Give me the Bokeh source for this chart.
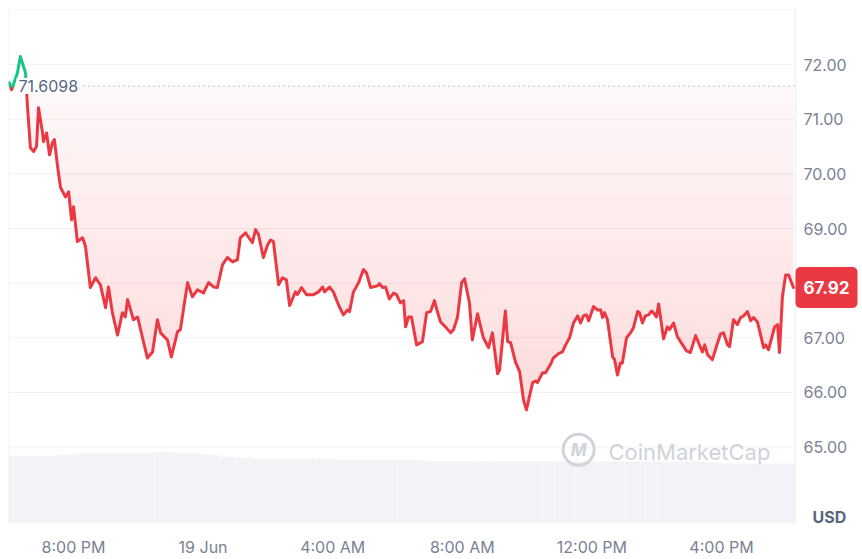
import numpy as np
from bokeh.plotting import figure
from bokeh.models import Range1d, FixedTicker, Label
from bokeh.core.properties import value
from bokeh.embed import file_html
from bokeh.resources import INLINE

# ---- data (hours since 18 Jun 00:00) ----
hours = [18.02, 18.09, 18.27, 18.36, 18.52, 18.58, 18.67, 18.77, 18.86, 18.92,
         19.04, 19.07, 19.17, 19.26, 19.35, 19.41, 19.51, 19.60, 19.75, 19.85,
         19.94, 20.00, 20.12, 20.28, 20.37, 20.52, 20.68, 20.83, 20.99, 21.08,
         21.20, 21.36, 21.51, 21.60, 21.67, 21.85, 21.98, 22.13, 22.28, 22.44,
         22.59, 22.69, 22.90, 23.02, 23.21, 23.30, 23.52, 23.67, 23.83, 24.01,
         24.17, 24.32, 24.44, 24.60, 24.75, 24.91, 25.06, 25.15, 25.31, 25.52,
         25.62, 25.71, 25.86, 25.99, 26.08, 26.17, 26.33, 26.45, 26.57, 26.67,
         26.85, 26.91, 27.04, 27.19, 27.41, 27.56, 27.69, 27.75, 27.90, 28.02,
         28.18, 28.33, 28.46, 28.52, 28.64, 28.80, 28.95, 29.04, 29.17, 29.38,
         29.44, 29.54, 29.63, 29.75, 29.88, 29.97, 30.09, 30.19, 30.25, 30.34,
         30.43, 30.59, 30.77, 30.90, 31.02, 31.14, 31.23, 31.33, 31.48, 31.64,
         31.73, 31.85, 31.98, 32.07, 32.22, 32.31, 32.47, 32.65, 32.81, 32.93,
         33.09, 33.15, 33.33, 33.40, 33.49, 33.64, 33.77, 33.89, 33.98, 34.17,
         34.26, 34.32, 34.48, 34.57, 34.72, 34.81, 34.97, 35.09, 35.19, 35.31,
         35.43, 35.56, 35.65, 35.74, 35.83, 35.90, 36.05, 36.17, 36.27, 36.33,
         36.39, 36.48, 36.64, 36.70, 36.79, 36.88, 36.94, 37.07, 37.19, 37.28,
         37.41, 37.47, 37.56, 37.65, 37.75, 37.84, 37.90, 37.99, 38.06, 38.21,
         38.33, 38.40, 38.52, 38.64, 38.80, 38.92, 39.04, 39.20, 39.41, 39.48,
         39.57, 39.72, 39.88, 39.97, 40.06, 40.19, 40.25, 40.37, 40.49, 40.59,
         40.68, 40.80, 40.90, 40.99, 41.11, 41.30, 41.36, 41.45, 41.64, 41.73,
         41.79, 41.88, 41.98, 42.07, 42.22]

price = [71.67, 71.54, 71.85, 72.15, 71.85, 71.23, 70.48, 70.41, 70.50, 71.21,
         70.77, 70.59, 70.75, 70.35, 70.57, 70.63, 70.13, 69.75, 69.58, 69.67,
         69.16, 69.40, 68.76, 68.83, 68.67, 67.92, 68.10, 67.97, 67.55, 67.93,
         67.46, 67.05, 67.46, 67.38, 67.70, 67.33, 67.38, 67.00, 66.63, 66.74,
         67.33, 67.09, 66.96, 66.65, 67.11, 67.15, 68.01, 67.75, 67.88, 67.82,
         68.01, 67.93, 67.92, 68.34, 68.47, 68.39, 68.43, 68.83, 68.92, 68.74,
         68.98, 68.89, 68.47, 68.70, 68.79, 68.76, 67.97, 68.10, 68.06, 67.59,
         67.84, 67.79, 67.92, 67.79, 67.79, 67.84, 67.93, 67.84, 67.93, 67.84,
         67.60, 67.42, 67.51, 67.48, 67.84, 68.01, 68.25, 68.19, 67.92, 67.95,
         67.99, 67.92, 67.93, 67.71, 67.82, 67.79, 67.64, 67.68, 67.20, 67.38,
         67.38, 66.87, 66.93, 67.46, 67.48, 67.68, 67.48, 67.29, 67.20, 67.09,
         67.15, 67.37, 68.01, 68.08, 67.64, 66.96, 67.44, 67.00, 66.82, 67.09,
         66.34, 66.41, 67.49, 66.93, 66.91, 66.56, 66.38, 65.86, 65.68, 66.18,
         66.21, 66.18, 66.36, 66.36, 66.51, 66.63, 66.71, 66.74, 66.87, 67.00,
         67.27, 67.40, 67.27, 67.40, 67.42, 67.31, 67.57, 67.51, 67.51, 67.37,
         67.46, 67.33, 66.65, 66.60, 66.32, 66.54, 66.54, 67.00, 67.09, 67.18,
         67.48, 67.46, 67.27, 67.40, 67.42, 67.49, 67.46, 67.38, 67.62, 66.98,
         67.20, 67.15, 67.27, 67.02, 66.87, 66.76, 66.73, 67.04, 66.74, 66.87,
         66.69, 66.60, 66.91, 67.07, 67.09, 66.87, 66.84, 67.33, 67.24, 67.37,
         67.40, 67.48, 67.31, 67.37, 67.29, 66.82, 66.87, 66.78, 67.20, 67.24,
         66.73, 67.75, 68.15, 68.15, 67.92]

baseline = 71.6098

vol_start = [18.0 + 0.5 * i for i in range(49)]
volume = [340, 340, 340, 345, 350, 355, 355, 355, 355, 360,
          355, 350, 345, 335, 330, 325, 325, 325, 325, 325,
          320, 320, 320, 320, 320, 315, 310, 310, 310, 310,
          310, 310, 310, 310, 310, 310, 310, 310, 310, 310,
          310, 310, 310, 305, 300, 300, 300, 300, 300]

x_ticks = [20, 24, 28, 32, 36, 40]
x_tick_labels = ["8:00 PM", "19 Jun", "4:00 AM", "8:00 AM", "12:00 PM", "4:00 PM"]
y_ticks = [65, 66, 67, 68, 69, 70, 71, 72]

RED = "#ea3943"
GREEN = "#16c784"
GRID = "#eff2f5"
AXIS_TXT = "#7a8294"
MARK = "#cfd3da"
FONT = "Inter"

# time window shown (data span) and price span
T0, T1 = 17.994, 42.284
Y0, Y1 = 63.60, 73.01
# the frame also holds the right-hand price scale column
TR = T1 + 67 / 32.4

p = figure(width=862, height=559, x_range=Range1d(T0, TR), y_range=Range1d(Y0, Y1),
           y_axis_location=None, output_backend="svg", toolbar_location=None,
           min_border_left=8, min_border_top=9, min_border_right=0, min_border_bottom=35,
           background_fill_color="white", border_fill_color="white")
p.outline_line_color = None
p.extra_y_ranges = {"vol": Range1d(0, 2575)}

# grid lines and chart border (only over the time window)
p.segment(x0=T0, y0=y_ticks, x1=T1, y1=y_ticks, line_color=GRID, line_width=1)
p.segment(x0=[T0, T1, T0], y0=[Y0, Y0, Y1], x1=[T0, T1, T1], y1=[Y1, Y1, Y1],
          line_color=GRID, line_width=1.5)

# volume bars
vs = np.array(vol_start)
p.quad(left=vs, right=np.minimum(vs + 0.5, T1), top=volume, bottom=0,
       y_range_name="vol", fill_color="#f1f3f6", line_color=None)

# gradient-like fill between the price line and the baseline
h = np.array(hours)
pr = np.array(price)
p.varea(x=h, y1=pr, y2=np.maximum(pr, baseline), fill_color=RED, fill_alpha=0.04)
for lvl in np.arange(71.2, 65.5, -0.4):
    p.varea(x=h, y1=pr, y2=np.maximum(pr, min(lvl, baseline)), fill_color=RED, fill_alpha=0.011)

# baseline dotted line
p.line(x=[T0, T1], y=[baseline, baseline], line_color="#a7b0c0", line_width=1.3, line_dash="1 4")

# split the price line in runs above (green) / below (red) the baseline
runs = []
cur_above = price[0] >= baseline
cx, cy = [hours[0]], [price[0]]
for i in range(len(hours) - 1):
    x0, y0, x1, y1 = hours[i], price[i], hours[i + 1], price[i + 1]
    above1 = y1 >= baseline
    if above1 != cur_above:
        xc = x0 + (baseline - y0) * (x1 - x0) / (y1 - y0)
        cx.append(xc); cy.append(baseline)
        runs.append((cur_above, cx, cy))
        cx, cy = [xc], [baseline]
        cur_above = above1
    cx.append(x1); cy.append(y1)
runs.append((cur_above, cx, cy))

red_xs = [r[1] for r in runs if not r[0]]
red_ys = [r[2] for r in runs if not r[0]]
grn_xs = [r[1] for r in runs if r[0]]
grn_ys = [r[2] for r in runs if r[0]]
p.multi_line(xs=red_xs, ys=red_ys, line_color=RED, line_width=3, line_join="round", line_cap="round")
p.multi_line(xs=grn_xs, ys=grn_ys, line_color=GREEN, line_width=3, line_join="round", line_cap="round")

# watermark
p.scatter(x=[35.59], y=[64.95], marker="circle", size=31, fill_color=None,
          line_color=MARK, line_width=3)
p.add_layout(Label(x=35.59, y=64.95, text="M", text_font=FONT, text_font_size="17px",
                   text_font_style="bold italic", text_color=MARK,
                   text_align="center", text_baseline="middle"))
p.add_layout(Label(x=36.51, y=64.91, text="CoinMarketCap", text_font=FONT, text_font_size="22px",
                   text_color=MARK, text_align="left", text_baseline="middle"))

# time axis
p.xaxis.ticker = FixedTicker(ticks=x_ticks)
p.xaxis.major_label_overrides = dict(zip(x_ticks, x_tick_labels))
p.xaxis.axis_line_color = None
p.xaxis.major_tick_line_color = None
p.xaxis.minor_tick_line_color = None
p.xaxis.major_label_text_font = FONT
p.xaxis.major_label_text_font_size = "16px"
p.xaxis.major_label_text_color = AXIS_TXT
p.xaxis.major_label_standoff = 7
p.xgrid.grid_line_color = None
p.ygrid.grid_line_color = None

# price scale labels on the right
p.text(x=[T1] * len(y_ticks), y=y_ticks, text=[f"{t:.2f}" for t in y_ticks], x_offset=8,
       text_font=value(FONT), text_font_size="16px", text_color=AXIS_TXT,
       text_align="left", text_baseline="middle")

# baseline value label
p.add_layout(Label(x=T0, y=baseline, x_offset=8, text=f"{baseline:.4f}", text_font=FONT,
                   text_font_size="16px", text_color="#58667e", text_align="left",
                   text_baseline="middle", background_fill_color="white",
                   padding=2))

# last price tag
p.add_layout(Label(x=T1, y=price[-1], x_offset=0, text=f"{price[-1]:.2f}", text_font=FONT,
                   text_font_size="17px", text_font_style="bold", text_color="white",
                   text_align="left", text_baseline="middle", background_fill_color=RED,
                   padding=(8, 14), border_radius=5))

# currency label
p.add_layout(Label(x=T1, y=Y0, x_offset=17, y_offset=7, text="USD", text_font=FONT,
                   text_font_size="16px", text_font_style="bold", text_color="#58667e",
                   text_align="left", text_baseline="middle"))

open("out.html", "w").write(file_html(p, INLINE))
